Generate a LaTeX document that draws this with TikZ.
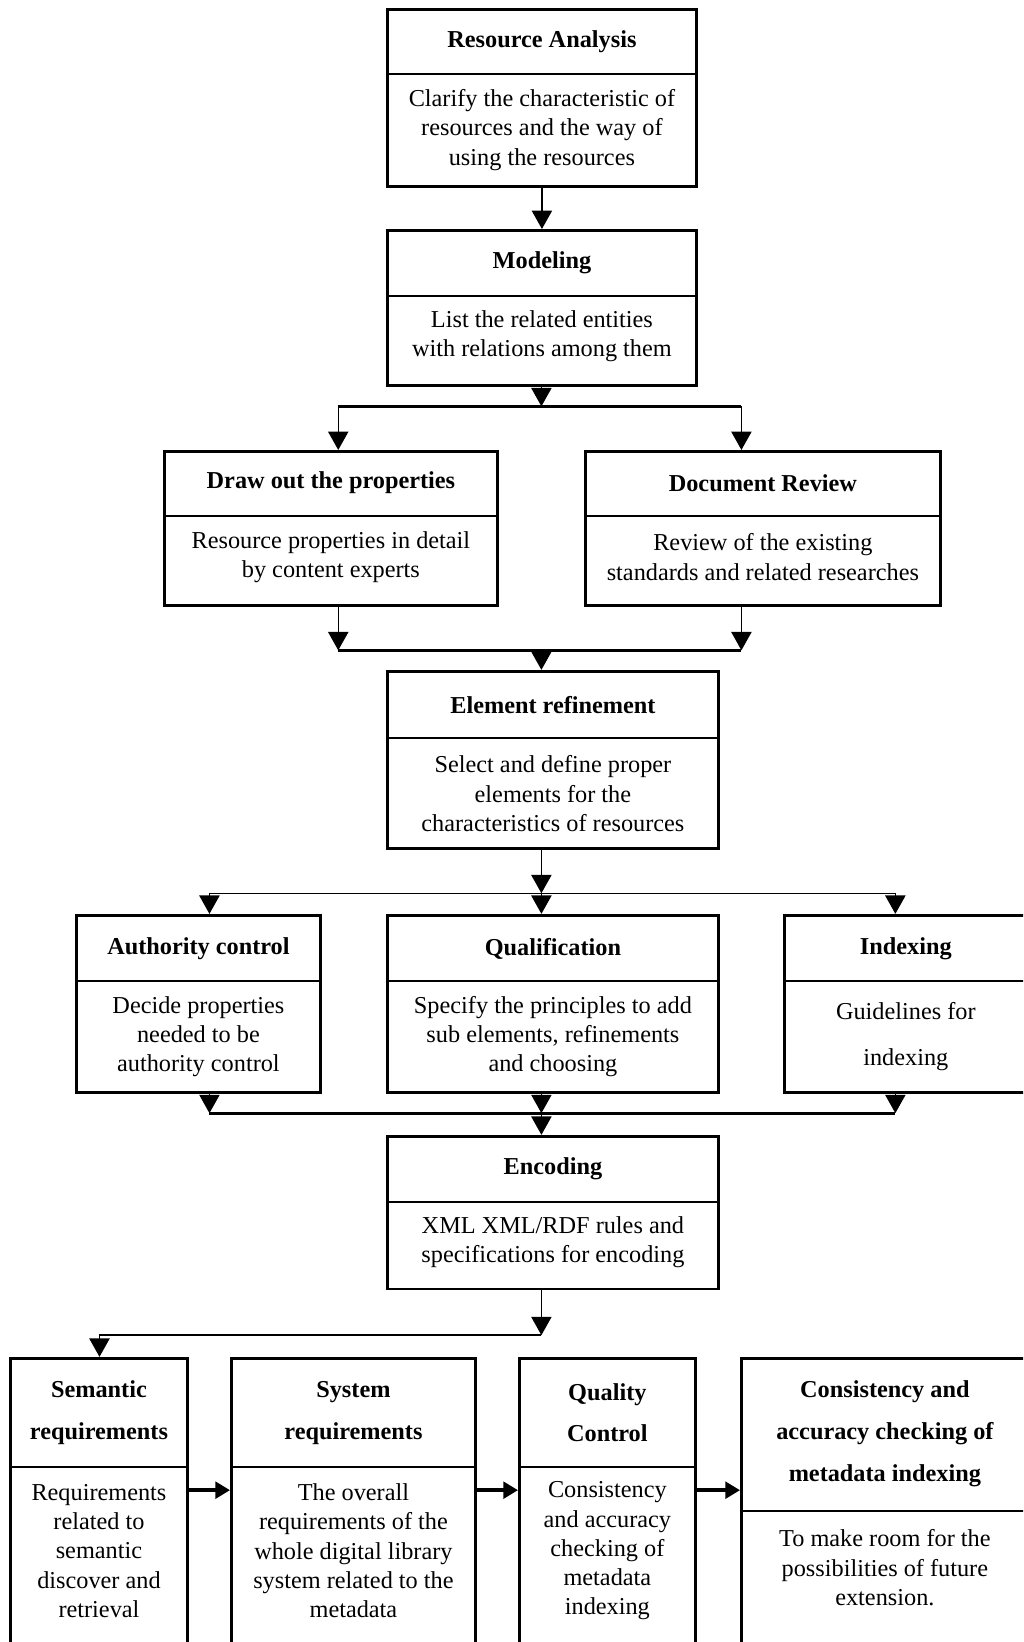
\documentclass[tikz,border=0pt]{standalone}
\usepackage{fontspec}
\setmainfont{Liberation Serif}
\usetikzlibrary{arrows.meta,fit}
\tikzset{
  box/.style      = {draw, line width=1.5pt, inner sep=0pt},
  divider/.style  = {line width=1pt},
  ttl/.style      = {font=\fontsize{13.2}{15.9}\selectfont\bfseries, align=center, inner sep=0pt},
  ttlwide/.style  = {ttl, font=\fontsize{13.2}{22.7}\selectfont\bfseries},
  txt/.style      = {font=\fontsize{13.2}{15.9}\selectfont, align=center, inner sep=0pt},
  sig/.style      = {-{Triangle[width=11pt,length=10pt]}, line width=0.8pt},
  wire/.style     = {line width=0.8pt},
  heavy/.style    = {line width=1.5pt},
  flow/.style     = {-{Triangle[width=9pt,length=8pt]}, line width=2.2pt},
}
\begin{document}
\begin{tikzpicture}[x=0.02cm,y=-0.02cm]
  \useasboundingbox (0,0) rectangle (977,1568);
  \clip (0,0) rectangle (977,1568);
  % resource analysis
  \node[box, fit={(370,9) (665,178)}] (ra) {};
  \draw[divider] (370,71) -- (665,71);
  \node[ttl] (ra-t) at (517.5,40) {Resource Analysis};
  \node[txt] (ra-b) at (517.5,124) {Clarify the characteristic of\\resources and the way of\\using the resources};
  % modeling
  \node[box, fit={(370,220) (665,368)}] (mod) {};
  \draw[divider] (370,283) -- (665,283);
  \node[ttl] (mod-t) at (517.5,251) {Modeling};
  \node[txt] (mod-b) at (517.5,321) {List the related entities\\with relations among them};
  % properties and review
  \node[box, fit={(157,431) (475,578)}] (dr) {};
  \draw[divider] (157,493) -- (475,493);
  \node[ttl] (dr-t) at (316,461) {Draw out the properties};
  \node[txt] (dr-b) at (316,532) {Resource properties in detail\\by content experts};
  \node[box, fit={(559,431) (898,578)}] (rev) {};
  \draw[divider] (559,493) -- (898,493);
  \node[ttl] (rev-t) at (728.5,461) {Document Review};
  \node[txt] (rev-b) at (728.5,532) {Review of the existing\\standards and related researches};
  % element refinement
  \node[box, fit={(370,641) (686,810)}] (er) {};
  \draw[divider] (370,705) -- (686,705);
  \node[ttl] (er-t) at (528,673) {Element refinement};
  \node[txt] (er-b) at (528,758) {Select and define proper\\elements for the\\characteristics of resources};
  % authority, qualification, indexing
  \node[box, fit={(73,874) (306,1043)}] (ac) {};
  \draw[divider] (73,937) -- (306,937);
  \node[ttl] (ac-t) at (189.5,906) {Authority control};
  \node[txt] (ac-b) at (189.5,990) {Decide properties\\needed to be\\authority control};
  \node[box, fit={(370,874) (686,1043)}] (qual) {};
  \draw[divider] (370,937) -- (686,937);
  \node[ttl] (qual-t) at (528,906) {Qualification};
  \node[txt] (qual-b) at (528,990) {Specify the principles to add\\sub elements, refinements\\and choosing};
  \node[box, fit={(749,874) (982,1043)}] (idx) {};
  \draw[divider] (749,937) -- (982,937);
  \node[ttl] (idx-t) at (865,906) {Indexing};
  \node[txt] (idx-b) at (865,990) {Guidelines for\\[9pt]indexing};
  % encoding
  \node[box, fit={(370,1085) (686,1231)}] (enc) {};
  \draw[divider] (370,1148) -- (686,1148);
  \node[ttl] (enc-t) at (528,1116) {Encoding};
  \node[txt] (enc-b) at (528,1186) {XML XML/RDF rules and\\specifications for encoding};
  % requirements row
  \node[box, fit={(10,1297) (179,1600)}] (sem) {};
  \draw[divider] (10,1401) -- (179,1401);
  \node[ttlwide] (sem-t) at (94.5,1349) {Semantic\\requirements};
  \node[txt] (sem-b) at (94.5,1481) {Requirements\\related to\\semantic\\discover and\\retrieval};
  \node[box, fit={(221,1297) (454,1600)}] (sys) {};
  \draw[divider] (221,1401) -- (454,1401);
  \node[ttlwide] (sys-t) at (337.5,1349) {System\\requirements};
  \node[txt] (sys-b) at (337.5,1481) {The overall\\requirements of the\\whole digital library\\system related to the\\metadata};
  \node[box, fit={(496,1297) (664,1600)}] (qc) {};
  \draw[divider] (496,1401) -- (664,1401);
  \node[ttlwide] (qc-t) at (580,1349) {Quality\\Control};
  \node[txt] (qc-b) at (580,1481) {Consistency\\and accuracy\\checking of\\metadata\\indexing};
  \node[box, fit={(708,1297) (982,1600)}] (cons) {};
  \draw[divider] (708,1443) -- (982,1443);
  \node[ttlwide] (cons-t) at (845,1369) {Consistency and\\accuracy checking of\\metadata indexing};
  \node[txt] (cons-b) at (845,1497) {To make room for the\\possibilities of future\\extension.};
  % junction points
  \coordinate (s1) at (517,388);  \coordinate (s1l) at (323,388);  \coordinate (s1r) at (708,388);
  \coordinate (m1) at (517,621);  \coordinate (m1l) at (323,621);  \coordinate (m1r) at (708,621);
  \coordinate (s2) at (517,853);  \coordinate (s2l) at (200,853);  \coordinate (s2r) at (855,853);
  \coordinate (m2) at (517,1063); \coordinate (m2l) at (200,1063); \coordinate (m2r) at (855,1063);
  \coordinate (s3) at (517,1275); \coordinate (s3l) at (95,1275);
  \coordinate (row) at (0,1423);
  % connectors
  \draw[sig] (ra) -- (mod);
  \draw[sig] (s1 |- mod.south) -- (s1);
  \draw[heavy] (s1l) -- (s1r);
  \draw[sig] (s1l) -- (s1l |- dr.north);
  \draw[sig] (s1r) -- (s1r |- rev.north);
  \draw[sig] (m1l |- dr.south) -- (m1l);
  \draw[sig] (m1r |- rev.south) -- (m1r);
  \draw[heavy] (m1l) -- (m1r);
  \draw[sig] (m1) -- (m1 |- er.north);
  \draw[sig] (s2 |- er.south) -- (s2);
  \draw[wire] (s2l) -- (s2r);
  \draw[sig] (s2l) -- (s2l |- ac.north);
  \draw[sig] (s2) -- (s2 |- qual.north);
  \draw[sig] (s2r) -- (s2r |- idx.north);
  \draw[sig] (m2l |- ac.south) -- (m2l);
  \draw[sig] (m2 |- qual.south) -- (m2);
  \draw[sig] (m2r |- idx.south) -- (m2r);
  \draw[heavy] (m2l) -- (m2r);
  \draw[sig] (m2) -- (m2 |- enc.north);
  \draw[sig] (s3 |- enc.south) -- (s3);
  \draw[wire] (s3) -- (s3l);
  \draw[sig] (s3l) -- (s3l |- sem.north);
  \draw[flow] (sem.east |- row) -- (sys.west |- row);
  \draw[flow] (sys.east |- row) -- (qc.west |- row);
  \draw[flow] (qc.east |- row) -- (cons.west |- row);
\end{tikzpicture}
\end{document}
